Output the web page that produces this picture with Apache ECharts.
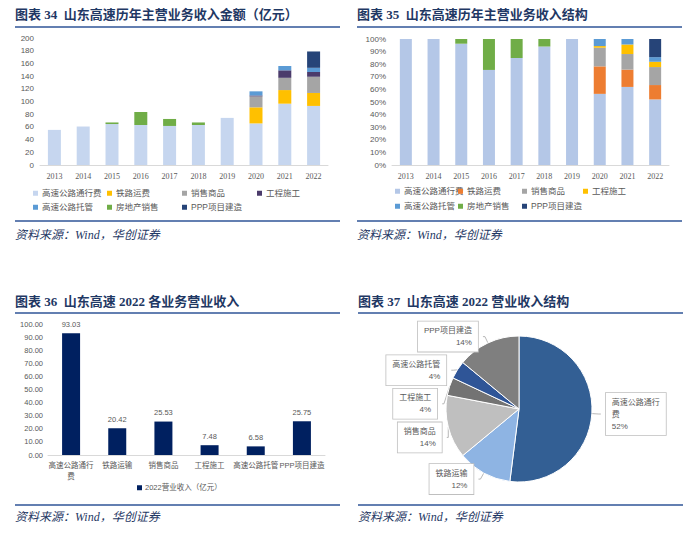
<!DOCTYPE html>
<html>
<head>
<meta charset="utf-8">
<script src="https://cdn.jsdelivr.net/npm/echarts@6/dist/echarts.min.js"></script>
<style>
html,body{margin:0;padding:0;background:#fff;width:700px;height:534px;overflow:hidden;}
.p{position:absolute;left:0;top:0;width:700px;height:534px;}
</style>
</head>
<body>
<div id="c1" class="p"></div>
<div id="c2" class="p"></div>
<div id="c3" class="p"></div>
<div id="c4" class="p"></div>
<script>
// ---------- data ----------
var years = ['2013','2014','2015','2016','2017','2018','2019','2020','2021','2022'];
var seriesNames = ['高速公路通行费','铁路运费','销售商品','工程施工','高速公路托管','房地产销售','PPP项目建造'];
var tollFee     = [55.3, 60.6, 64.5, 63.0, 61.5, 63.0, 74.2, 65.5, 96.6, 93.03];
var railFee     = [0, 0, 0, 0, 0, 0, 0, 25.3, 21.4, 20.42];
var goodsSales  = [0, 0, 0, 0, 0, 0, 0, 17.2, 19.3, 25.53];
var construct   = [0, 0, 0, 0, 0, 0, 0, 1.5, 11.8, 7.48];
var trustee     = [0, 0, 0, 0, 0, 0, 0, 6.5, 6.8, 6.58];
var realEstate  = [0, 0, 2.5, 20.5, 11.0, 4.0, 0, 0, 0, 0];
var pppBuild    = [0, 0, 0, 0, 0, 0, 0, 0, 0, 25.75];
var amountTicks = [0,20,40,60,80,100,120,140,160,180,200];

var biz2022Names  = ['高速公路通行费','铁路运输','销售商品','工程施工','高速公路托管','PPP项目建造'];
var biz2022Values = [93.03, 20.42, 25.53, 7.48, 6.58, 25.75];
var pieShares     = [52, 12, 14, 4, 4, 14];

// ---------- styles ----------
var colors1 = ['#c6d6ef','#ffc000','#a5a5a5','#4b3b6b','#5b9bd5','#70ad47','#264478'];
var colors2 = ['#b4c7e7','#ed7d31','#a5a5a5','#ffc000','#5b9bd5','#70ad47','#264478'];
var pieColors = ['#335f94','#8eb4e3','#bfbfbf','#737373','#2f5597','#7f7f7f'];
var navy = '#002060';
var titleColor = '#1f3864';
var txt = '#595959';
var sans = '"Liberation Sans","Noto Sans CJK SC",sans-serif';
var serifNum = '"Liberation Serif","Noto Sans CJK SC",serif';
var allSeries = [tollFee, railFee, goodsSales, construct, trustee, realEstate, pppBuild];

function frame(title, x0, x1, yTitle, yTop, yBot, ySrc) {
  return [
    {type:'text', left:x0, top:yTitle-8, style:{text:title, fontSize:13, fontWeight:'bold', fill:titleColor, fontFamily:serifNum}},
    {type:'line', shape:{x1:x0, y1:yTop, x2:x1, y2:yTop}, style:{stroke:'#2f5597', lineWidth:1.3}},
    {type:'line', shape:{x1:x0, y1:yBot, x2:x1, y2:yBot}, style:{stroke:'#2f5597', lineWidth:1.3}},
    {type:'text', left:x0, top:ySrc-7, style:{text:'资料来源：Wind，华创证券', fontSize:12, fontStyle:'italic', fill:titleColor, fontFamily:serifNum}}
  ];
}
function legendItems(names, cols, xs, ys) {
  var out = [];
  names.forEach(function(n, i){
    var col = i < 4 ? i : i - 4;
    var row = i < 4 ? 0 : 1;
    out.push({
      left: xs[col], top: ys[row]-6, itemWidth:5, itemHeight:5, itemGap:0,
      padding:0, icon:'rect', data:[n],
      textStyle:{color:txt, fontSize:8.5, fontFamily:sans, padding:[0,0,0,-1]}
    });
  });
  return out;
}
// wrap a label after 6 full-width characters when it is visually wider than that
function wrap6(s){
  var w = 0;
  for (var k = 0; k < s.length; k++) w += s.charCodeAt(k) > 255 ? 1 : 0.6;
  return w > 6.5 ? s.slice(0,6) + '\n' + s.slice(6) : s;
}

// ---------- chart 1 ----------
var c1 = echarts.init(document.getElementById('c1'), null, {renderer:'svg'});
c1.setOption({
  animation:false,
  graphic: frame('图表 34  山东高速历年主营业务收入金额（亿元）', 15, 340, 16, 27, 221, 236),
  grid:{left:40, top:38, width:288, height:127},
  legend: legendItems(seriesNames, 4, [33,107,182,257], [195,209]),
  xAxis:{type:'category', data:years, axisTick:{show:false},
    axisLine:{lineStyle:{color:'#d9d9d9'}},
    axisLabel:{color:txt, fontSize:8, fontFamily:serifNum, margin:7}},
  yAxis:{type:'value', min:amountTicks[0], max:amountTicks[amountTicks.length-1], interval:20,
    splitLine:{show:false}, axisLine:{show:false}, axisTick:{show:false},
    axisLabel:{color:txt, fontSize:8, fontFamily:sans, margin:6}},
  series: seriesNames.map(function(n,i){
    return {name:n, type:'bar', stack:'a', barWidth:13, data:allSeries[i], itemStyle:{color:colors1[i]}};
  })
});

// ---------- chart 2 ----------
var totals = years.map(function(y, j){
  var s = 0; allSeries.forEach(function(a){ s += a[j]; }); return s;
});
var c2 = echarts.init(document.getElementById('c2'), null, {renderer:'svg'});
c2.setOption({
  animation:false,
  graphic: frame('图表 35  山东高速历年主营业务收入结构', 357, 682, 16, 27, 221, 236),
  grid:{left:392, top:39, width:277, height:126},
  legend: legendItems(seriesNames, 4, [395,458,522,583], [193,208]),
  xAxis:{type:'category', data:years, axisTick:{show:false},
    axisLine:{lineStyle:{color:'#d9d9d9'}},
    axisLabel:{color:txt, fontSize:8, fontFamily:serifNum, margin:7}},
  yAxis:{type:'value', min:0, max:100, interval:10,
    splitLine:{show:false}, axisLine:{show:false}, axisTick:{show:false},
    axisLabel:{color:txt, fontSize:8, fontFamily:sans, margin:6, formatter:'{value}%'}},
  series: seriesNames.map(function(n,i){
    return {name:n, type:'bar', stack:'a', barWidth:12,
      data: allSeries[i].map(function(v,j){ return v/totals[j]*100; }),
      itemStyle:{color:colors2[i]}};
  })
});

// ---------- chart 3 ----------
var c3 = echarts.init(document.getElementById('c3'), null, {renderer:'svg'});
c3.setOption({
  animation:false,
  graphic: frame('图表 36  山东高速 2022 各业务营业收入', 15, 340, 303, 313, 505, 518),
  grid:{left:48, top:324, width:277, height:131},
  legend:{left:137, top:484, itemWidth:5, itemHeight:5, padding:0, icon:'rect',
    data:['2022营业收入（亿元）'], textStyle:{color:txt, fontSize:7.5, fontFamily:sans, padding:[0,0,0,-2]}},
  xAxis:{type:'category', data:biz2022Names, axisTick:{show:false},
    axisLine:{lineStyle:{color:'#d9d9d9'}},
    axisLabel:{color:txt, fontSize:7.5, fontFamily:sans, margin:5, interval:0, lineHeight:11, formatter:wrap6}},
  yAxis:{type:'value', min:0, max:100, interval:10,
    splitLine:{show:false}, axisLine:{show:false}, axisTick:{show:false},
    axisLabel:{color:txt, fontSize:7.5, fontFamily:sans, margin:5, formatter:function(v){return v.toFixed(2);}}},
  series:[{name:'2022营业收入（亿元）', type:'bar', barWidth:18, data:biz2022Values,
    itemStyle:{color:navy},
    label:{show:true, position:'top', distance:5, color:txt, fontSize:7.5, fontFamily:sans,
      formatter:function(p){return p.value.toFixed(2);}}}]
});

// ---------- chart 4 ----------
var c4 = echarts.init(document.getElementById('c4'), null, {renderer:'svg'});
c4.setOption({
  animation:false,
  graphic: frame('图表 37  山东高速 2022 营业收入结构', 358, 683, 303, 313, 505, 518),
  series:[{type:'pie', center:[519,409], radius:73, startAngle:90, clockwise:true,
    data: biz2022Names.map(function(n,i){ return {name:n, value:pieShares[i], itemStyle:{color:pieColors[i]}}; }),
    itemStyle:{borderColor:'#fff', borderWidth:1},
    label:{show:true, position:'outside', color:txt, fontSize:8, fontFamily:sans, lineHeight:12,
      backgroundColor:'#fff', borderColor:'#bfbfbf', borderWidth:0.8, padding:[3,6], align:'center',
      formatter:function(p){ return wrap6(p.name) + '\n' + p.value + '%'; }},
    labelLine:{show:true, length:7, length2:2, lineStyle:{color:'#a6a6a6', width:0.8}}
  }]
});
</script>
</body>
</html>
